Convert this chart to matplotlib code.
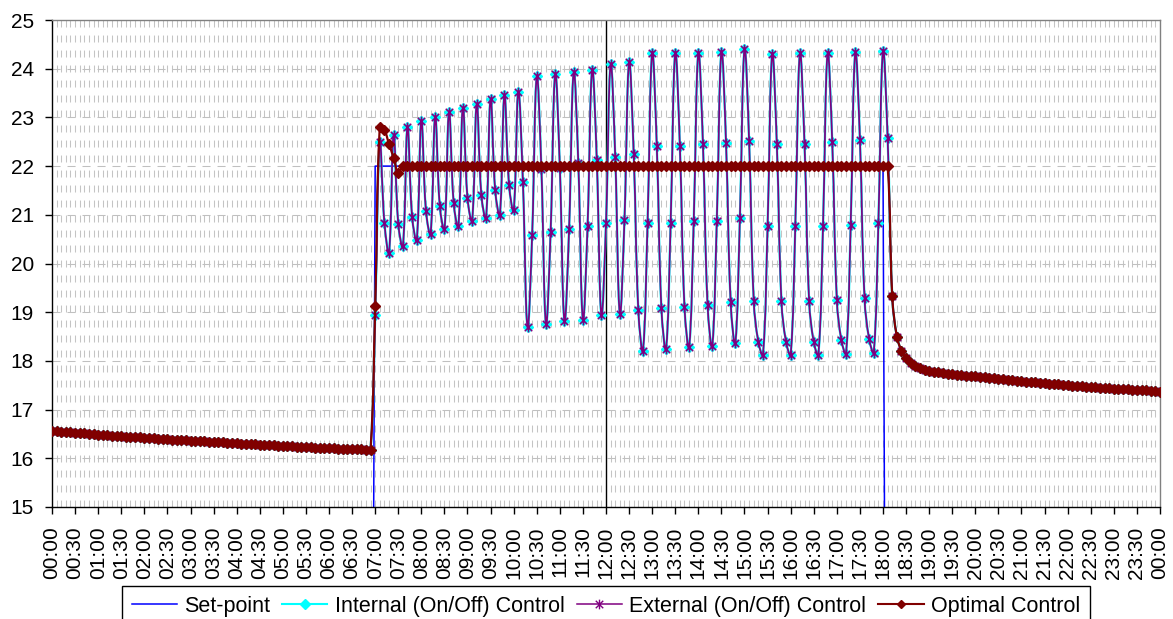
import numpy as np
import matplotlib
matplotlib.use('Agg')
import matplotlib.pyplot as plt
from matplotlib.path import Path
from matplotlib.patches import PathPatch
from matplotlib.lines import Line2D

plt.rcParams['font.family'] = ['Liberation Sans', 'DejaVu Sans']
plt.rcParams['lines.scale_dashes'] = False

# samples every 6 minutes, 00:00 .. 24:00 (241 points)
time_labels = ['%02d:%02d' % ((k // 2) % 24, 30 * (k % 2)) for k in range(49)]

# 00:00 - 06:54, all three controllers give the same room temperature
night = [16.57, 16.56, 16.55, 16.54, 16.53, 16.52, 16.52, 16.51, 16.50, 16.49,
         16.48, 16.48, 16.47, 16.46, 16.46, 16.45, 16.44, 16.44, 16.43, 16.43,
         16.42, 16.41, 16.41, 16.40, 16.40, 16.39, 16.38, 16.38, 16.37, 16.37,
         16.36, 16.36, 16.35, 16.35, 16.34, 16.34, 16.33, 16.33, 16.32, 16.31,
         16.31, 16.30, 16.30, 16.29, 16.29, 16.28, 16.28, 16.27, 16.27, 16.26,
         16.26, 16.25, 16.25, 16.24, 16.24, 16.23, 16.23, 16.22, 16.22, 16.21,
         16.21, 16.21, 16.20, 16.20, 16.20, 16.19, 16.19, 16.19, 16.18, 16.18]

# 07:00 - 18:06, on/off control (internal and external read the same)
onoff_day = [18.94, 22.50, 20.84, 20.22, 22.64, 20.82, 20.35, 22.80, 20.96, 20.48,
             22.93, 21.08, 20.61, 23.01, 21.18, 20.70, 23.11, 21.25, 20.76, 23.20,
             21.34, 20.88, 23.27, 21.41, 20.93, 23.38, 21.50, 21.00, 23.45, 21.61,
             21.09, 23.53, 21.67, 18.69, 20.58, 23.84, 21.95, 18.76, 20.65, 23.90,
             21.97, 18.82, 20.70, 23.93, 22.06, 18.85, 20.76, 23.98, 22.13, 18.94,
             20.83, 24.09, 22.19, 18.97, 20.90, 24.14, 22.25, 19.04, 18.21, 20.83,
             24.33, 22.41, 19.08, 18.24, 20.83, 24.33, 22.41, 19.11, 18.28, 20.87,
             24.33, 22.45, 19.15, 18.30, 20.88, 24.35, 22.47, 19.20, 18.36, 20.93,
             24.41, 22.51, 19.24, 18.39, 18.12, 20.77, 24.31, 22.45, 19.23, 18.39,
             18.12, 20.77, 24.32, 22.45, 19.23, 18.39, 18.12, 20.76, 24.32, 22.50,
             19.26, 18.42, 18.15, 20.80, 24.34, 22.54, 19.29, 18.45, 18.17, 20.83,
             24.37, 22.58]

# 07:00 - 18:06, optimal control
optimal_day = [19.13, 22.81, 22.74, 22.45, 22.17, 21.86] + [22.0] * 106

# 18:12 - 24:00, all controllers again identical
evening = [19.33, 18.50, 18.21, 18.05, 17.95, 17.89, 17.85, 17.82, 17.80, 17.78,
           17.77, 17.75, 17.74, 17.73, 17.72, 17.71, 17.70, 17.69, 17.68, 17.67,
           17.66, 17.65, 17.64, 17.63, 17.62, 17.61, 17.60, 17.59, 17.58, 17.57,
           17.56, 17.56, 17.55, 17.54, 17.53, 17.52, 17.52, 17.51, 17.50, 17.49,
           17.49, 17.48, 17.47, 17.47, 17.46, 17.45, 17.45, 17.44, 17.43, 17.43,
           17.42, 17.42, 17.41, 17.41, 17.40, 17.40, 17.39, 17.38, 17.37]

# set-point: 22 during occupancy, off (below the axis) otherwise
setpoint = [0.0] * 70 + [22.0] * 111 + [0.0] * 60

internal = night + onoff_day + evening
external = night + onoff_day + evening
optimal = night + optimal_day + evening
x = np.arange(len(optimal))

C_SET = '#0000ff'
C_INT = '#00ffff'
C_EXT = '#800080'
C_OPT = '#800000'

# excel style asterisk marker (x plus vertical bar)
star = Path([(-1, -1), (1, 1), (-1, 1), (1, -1), (0, -1.3), (0, 1.3)],
            [Path.MOVETO, Path.LINETO, Path.MOVETO, Path.LINETO, Path.MOVETO, Path.LINETO])

# pixels per data unit, used only to shape the smoothing like excel does
SX, SY = 1108 / 240.0, 487 / 10.0


def smooth_path(xs, ys, t=0.4):
    # excel "smoothed line": bezier through every point, handles scaled by chord length
    px = np.asarray(xs, float) * SX
    py = np.asarray(ys, float) * SY
    n = len(px)
    d = np.hypot(np.diff(px), np.diff(py))
    c_in = np.zeros((n, 2))
    c_out = np.zeros((n, 2))
    for k in range(n):
        a = max(k - 1, 0)
        b = min(k + 1, n - 1)
        tx, ty = px[b] - px[a], py[b] - py[a]
        d0 = d[k - 1] if k > 0 else 0.0
        d1 = d[k] if k < n - 1 else 0.0
        s = d0 + d1
        if s == 0:
            s = 1.0
        if k == 0 or k == n - 1:
            f0 = f1 = 0.3
        else:
            f0, f1 = t * d0 / s, t * d1 / s
        c_in[k] = (px[k] - tx * f0, py[k] - ty * f0)
        c_out[k] = (px[k] + tx * f1, py[k] + ty * f1)
    verts = [(px[0], py[0])]
    codes = [Path.MOVETO]
    for k in range(n - 1):
        verts += [tuple(c_out[k]), tuple(c_in[k + 1]), (px[k + 1], py[k + 1])]
        codes += [Path.CURVE4] * 3
    verts = np.array(verts) / np.array([SX, SY])
    return Path(verts, codes)


fig = plt.figure(figsize=(11.73, 6.19), dpi=100)
ax = fig.add_axes([52 / 1173, 112 / 619, 1108 / 1173, 487 / 619])

# grid
for i in x:
    ax.axvline(i, color='#c4c4c4', lw=0.75, linestyle=(0, (5, 5.8)), zorder=0.5)
for v in range(16, 25):
    ax.axhline(v, color='#c0c0c0', lw=0.75, linestyle=(0, (5.8, 5)), zorder=0.6)
ax.axvline(120, color='black', lw=1.0, zorder=1)

ax.plot(x, setpoint, color=C_SET, lw=1.1, zorder=2)

ax.add_patch(PathPatch(smooth_path(x, internal), facecolor='none', edgecolor=C_INT, lw=1.7, zorder=3))
ax.plot(x, internal, linestyle='none', marker='D', markersize=5.5, color=C_INT, zorder=3.1)

ax.add_patch(PathPatch(smooth_path(x, external), facecolor='none', edgecolor=C_EXT, lw=1.25, zorder=4))
ax.plot(x, external, linestyle='none', marker=star, markersize=7, markerfacecolor='none',
        markeredgecolor=C_EXT, markeredgewidth=1.1, zorder=4.1)

ax.add_patch(PathPatch(smooth_path(x, optimal), facecolor='none', edgecolor=C_OPT, lw=1.6, zorder=5))
ax.plot(x, optimal, linestyle='none', marker='D', markersize=5, color=C_OPT, zorder=5.1)

ax.set_xlim(0, 240)
ax.set_ylim(15, 25)
ax.set_yticks(range(15, 26))
ax.set_xticks(range(0, 241, 5))
ax.set_xticklabels(time_labels, rotation=90, fontsize=15)
ax.tick_params(axis='y', labelsize=15, length=5, width=1, pad=8, direction='out')
ax.tick_params(axis='x', length=5, width=1, pad=9, direction='out')

for side in ['left', 'bottom']:
    ax.spines[side].set_color('black')
    ax.spines[side].set_linewidth(1.0)
for side in ['top', 'right']:
    ax.spines[side].set_color('#808080')
    ax.spines[side].set_linewidth(1.0)

handles = [
    Line2D([], [], color=C_SET, lw=1.1),
    Line2D([], [], color=C_INT, lw=1.5, marker='D', markersize=5),
    Line2D([], [], color=C_EXT, lw=1.1, marker=star, markersize=7, markerfacecolor='none',
           markeredgecolor=C_EXT, markeredgewidth=1.0),
    Line2D([], [], color=C_OPT, lw=1.5, marker='D', markersize=4),
]
labels = ['Set-point', 'Internal (On/Off) Control', 'External (On/Off) Control', 'Optimal Control']
leg = fig.legend(handles, labels, loc='upper center', bbox_to_anchor=(606 / 1173, 1 - 586 / 619),
                 ncol=4, fontsize=15.5, frameon=True, fancybox=False, edgecolor='black',
                 framealpha=1, handlelength=2.1, handletextpad=0.35, columnspacing=0.55,
                 borderpad=0.45, borderaxespad=0)
leg.get_frame().set_linewidth(1.0)

fig.savefig('out.png', dpi=100, facecolor='white')
